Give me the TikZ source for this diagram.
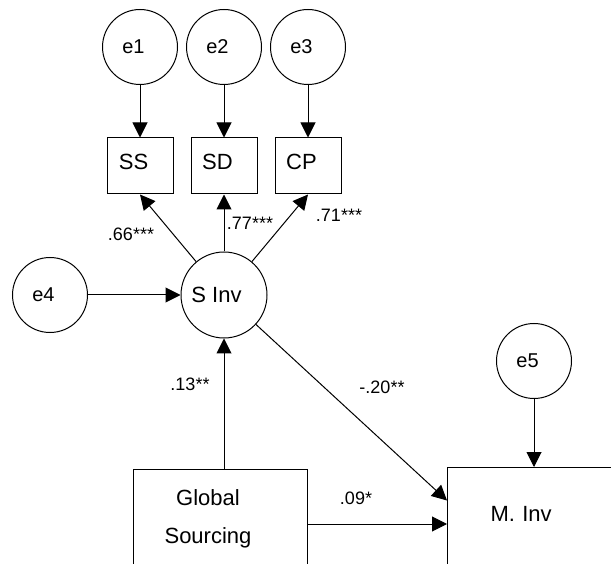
\documentclass[tikz,border=0pt]{standalone}
\usepackage{fontspec}
\setmainfont{Liberation Sans}
\usetikzlibrary{arrows.meta}
\usetikzlibrary{positioning}

\begin{document}
\begin{tikzpicture}[x=1pt,y=-1pt,
	errc/.style={draw, circle, line width=1pt, minimum size=75pt, inner sep=0pt, font=\fontsize{20}{24}\selectfont, execute at end node={\hspace*{13pt}}},
	latc/.style={draw, circle, line width=1pt, minimum size=86pt, inner sep=0pt, font=\fontsize{22}{26}\selectfont, execute at end node={\hspace*{15pt}}},
	obsbox/.style={draw, rectangle, line width=1pt, minimum width=66pt, minimum height=56pt, inner sep=0pt, text depth=9pt, font=\fontsize{22}{26}\selectfont, execute at end node={\hspace*{13pt}}},
	bigbox/.style={draw, rectangle, line width=1pt, minimum height=100pt, inner sep=0pt, font=\fontsize{22}{38}\selectfont},
	link/.style={-{Triangle[length=15pt,width=15pt]}, line width=1pt},
	coef/.style={inner sep=0pt, font=\fontsize{18}{22}\selectfont}]
					% page
					\useasboundingbox (0,0) rectangle (611,564);
					\fill[white] (0,0) rectangle (611,564);
					\clip (0,0) rectangle (611,564);
					% error terms
					\node[errc] (e1) at (140,47) {e1};
					\node[errc] (e2) at (224,47) {e2};
					\node[errc] (e3) at (308,47) {e3};
					\node[errc] (e4) at (50,295) {e4};
					\node[errc] (e5) at (534,361) {e5};
					% indicators
					\node[obsbox] (ss) at (140,166) {SS};
					\node[obsbox] (sd) at (224,166) {SD};
					\node[obsbox] (cp) at (308,166) {CP};
					% latent and observed variables
					\node[latc] (sinv) at (224,295) {S Inv};
					\node[bigbox, minimum width=174pt, align=center] (gs) at (220,519) {Global\hspace*{24pt}\\Sourcing\hspace*{24pt}};
					\node[bigbox, anchor=north west, text width=130pt, inner xsep=43pt, align=left, text depth=8pt] (minv) at (447,467) {M. Inv};
					% arrows
					\draw[link] (e1) -- (ss);
					\draw[link] (e2) -- (sd);
					\draw[link] (e3) -- (cp);
					\draw[link] (sinv) -- (ss.south);
					\draw[link] (sinv) -- (sd);
					\draw[link] (sinv) -- (cp.south);
					\draw[link] (e4) -- (sinv);
					\draw[link] (gs.north -| sinv) -- (sinv);
					\draw[link] (sinv) -- ([yshift=17pt]minv.west);
					\draw[link] ([yshift=-5pt]gs.east) -- ([yshift=-5pt]gs.east -| minv.west);
					\draw[link] (e5) -- (e5 |- minv.north);
					% coefficients
					\node[coef] (b1) at (131,234.5) {.66***};
					\node[coef] (b2) at (250,223) {.77***};
					\node[coef] (b3) at (339,215) {.71***};
					\node[coef] (b4) at (190,384.5) {.13**};
					\node[coef] (b5) at (382,387.5) {-.20**};
					\node[coef] (b6) at (356,498.5) {.09*};
				\end{tikzpicture}
\end{document}
